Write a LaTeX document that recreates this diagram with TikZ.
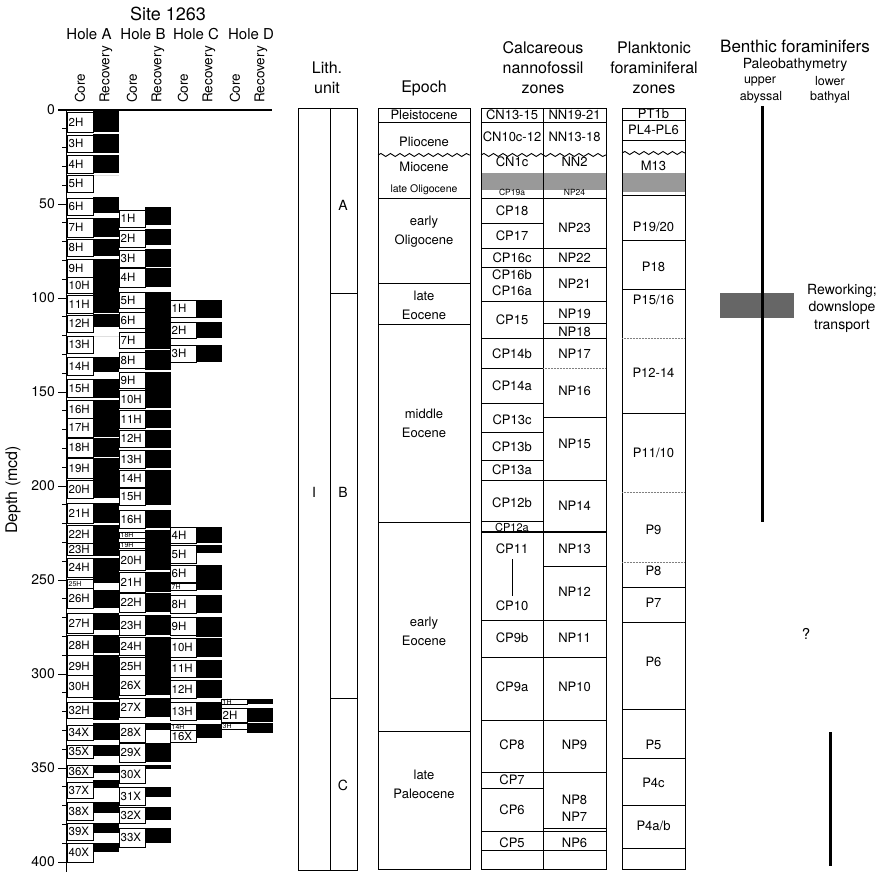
\documentclass[tikz,border=0pt]{standalone}
\usepackage{fontspec}
\setmainfont{TeX Gyre Heros}
\usetikzlibrary{decorations.pathmorphing}

% left edge of the core column of each hole
\def\holeA{67}
\def\holeB{119}
\def\holeC{170}
\def\holeD{221}
% hole, label, top, bottom, recovery top, recovery bottom
\newcommand{\core}[7][corelab]{%
	\edef\hx{\csname hole#2\endcsname}%
	\fill (\hx+26,#6) rectangle (\hx+52,#7);
	\draw[corebox] (\hx,#4) rectangle (\hx+26,#5);
	\node[#1] (#2#3) at (\hx+1.5,{(#4+#5)/2}) {#3};
}

\begin{document}
\begin{tikzpicture}[x=1pt,y=-1pt,
	corebox/.style = {draw,fill=white,line width=0.6pt},
	corelab/.style = {anchor=west,inner sep=0pt,font=\fontsize{11.5}{11.5}\selectfont},
	minilab/.style = {anchor=west,inner sep=0pt,font=\fontsize{7}{7}\selectfont},
	hdr/.style = {align=center,inner sep=0pt,font=\fontsize{16}{20}\selectfont},
	collab/.style = {rotate=90,anchor=west,inner sep=0pt,font=\fontsize{13.5}{13.5}\selectfont},
	zone/.style = {inner sep=0pt,font=\fontsize{13}{13}\selectfont},
	small/.style = {inner sep=0pt,font=\fontsize{8.5}{8.5}\selectfont},
	col/.style = {line width=0.9pt},
	dots/.style = {gray,densely dotted,line width=0.5pt},
	wave/.style = {decorate,decoration={snake,amplitude=1.5pt,segment length=9.5pt}}
	]
	\useasboundingbox (0,0) rectangle (882,872);
	%HEADER
	\node[font=\fontsize{18}{18}\selectfont,inner sep=0pt] (site) at (168,14) {Site 1263};
	\node[font=\fontsize{15}{15}\selectfont,inner sep=0pt] (hA) at (89,34) {Hole A};
	\node[font=\fontsize{15}{15}\selectfont,inner sep=0pt] (hB) at (143,34) {Hole B};
	\node[font=\fontsize{15}{15}\selectfont,inner sep=0pt] (hC) at (196,34) {Hole C};
	\node[font=\fontsize{15}{15}\selectfont,inner sep=0pt] (hD) at (251,34) {Hole D};
	\foreach \x [count=\i] in {80,132,183,235} {
		\node[collab] (core\i) at (\x,103) {Core};
		\node[collab] (rec\i) at (\x+26,103) {Recovery};
	}
	%DEPTH AXIS
	\draw[line width=1.4pt] (58,110) -- (272,110);
	\draw[line width=0.9pt] (66,110) -- (66,872);
	\foreach \d in {10,20,...,400}
		\draw[line width=0.9pt] (62,{110+1.88*\d}) -- (66,{110+1.88*\d});
	\foreach \d in {0,50,...,400} {
		\draw[line width=0.9pt] (58,{110+1.88*\d}) -- (66,{110+1.88*\d});
		\node[anchor=east,inner sep=0pt,font=\fontsize{14}{14}\selectfont] (d\d) at (55,{110+1.88*\d}) {\d};
	}
	\node[rotate=90,inner sep=0pt,font=\fontsize{16}{16}\selectfont] (depth) at (13,490) {Depth (mcd)};
	%HOLE A
	\core{A}{2H}{112}{132}{109}{132}
	\core{A}{3H}{135}{152}{134}{153}
	\core{A}{4H}{155}{173}{155}{173}
	\core{A}{5H}{175}{192}{175}{175}
	\core{A}{6H}{198}{215}{197}{213}
	\core{A}{7H}{218}{237}{218}{237}
	\core{A}{8H}{239}{256}{239}{256}
	\core{A}{9H}{259}{277}{259}{293}
	\core{A}{10H}{277}{293}{277}{293}
	\core{A}{11H}{295}{313}{290}{313}
	\core{A}{12H}{315}{332}{314}{327}
	\core{A}{13H}{336}{353}{336}{336}
	\core{A}{14H}{357}{375}{357}{372}
	\core{A}{15H}{379}{397}{379}{398}
	\core{A}{16H}{400}{418}{400}{418}
	\core{A}{17H}{418}{437}{418}{437}
	\core{A}{18H}{438}{457}{438}{457}
	\core{A}{19H}{458}{478}{458}{478}
	\core{A}{20H}{480}{498}{478}{498}
	\core{A}{21H}{503}{523}{503}{523}
	\core{A}{22H}{525}{543}{525}{541}
	\core{A}{23H}{543}{555}{541}{556}
	\core{A}{24H}{558}{577}{558}{578}
	\core[minilab]{A}{25H}{579}{588}{578}{583}
	\core{A}{26H}{588}{608}{590}{608}
	\core{A}{27H}{613}{633}{613}{630}
	\core{A}{28H}{635}{655}{635}{653}
	\core{A}{29H}{655}{677}{655}{675}
	\core{A}{30H}{675}{697}{675}{700}
	\core{A}{32H}{702}{718}{702}{720}
	\core{A}{34X}{725}{740}{723}{740}
	\core{A}{35X}{745}{758}{745}{756}
	\core{A}{36X}{765}{777}{765}{773}
	\core{A}{37X}{782}{798}{780}{788}
	\core{A}{38X}{802}{820}{802}{813}
	\core{A}{39X}{823}{840}{823}{833}
	\core{A}{40X}{843}{862}{843}{852}
	%HOLE B
	\core{B}{1H}{210}{227}{207}{225}
	\core{B}{2H}{230}{247}{229}{245}
	\core{B}{3H}{250}{267}{249}{267}
	\core{B}{4H}{268}{287}{268}{287}
	\core{B}{5H}{292}{308}{292}{310}
	\core{B}{6H}{312}{328}{310}{330}
	\core{B}{7H}{332}{348}{330}{349}
	\core{B}{8H}{352}{368}{350}{370}
	\core{B}{9H}{372}{388}{372}{390}
	\core{B}{10H}{390}{408}{390}{408}
	\core{B}{11H}{410}{428}{410}{428}
	\core{B}{12H}{430}{447}{430}{448}
	\core{B}{13H}{450}{468}{450}{468}
	\core{B}{14H}{470}{487}{470}{488}
	\core{B}{15H}{488}{505}{485}{505}
	\core{B}{16H}{510}{528}{510}{528}
	\core[minilab]{B}{18H}{532}{538}{530}{540}
	\core[minilab]{B}{19H}{542}{548}{540}{550}
	\core{B}{20H}{550}{570}{550}{570}
	\core{B}{21H}{572}{592}{572}{592}
	\core{B}{22H}{593}{612}{593}{612}
	\core{B}{23H}{615}{635}{615}{635}
	\core{B}{24H}{637}{655}{637}{657}
	\core{B}{25H}{657}{675}{657}{675}
	\core{B}{26X}{675}{695}{675}{695}
	\core{B}{27X}{698}{717}{698}{717}
	\core{B}{28X}{723}{742}{723}{730}
	\core{B}{29X}{743}{762}{743}{762}
	\core{B}{30X}{765}{783}{765}{769}
	\core{B}{31X}{787}{805}{787}{797}
	\core{B}{32X}{807}{823}{807}{820}
	\core{B}{33X}{828}{847}{828}{843}
	%HOLE C
	\core{C}{1H}{300}{317}{300}{318}
	\core{C}{2H}{322}{338}{322}{338}
	\core{C}{3H}{345}{362}{345}{362}
	\core{C}{4H}{527}{543}{527}{543}
	\core{C}{5H}{545}{563}{545}{553}
	\core{C}{6H}{565}{582}{565}{590}
	\core[minilab]{C}{7H}{583}{590}{583}{590}
	\core{C}{8H}{595}{613}{595}{613}
	\core{C}{9H}{617}{635}{617}{637}
	\core{C}{10H}{638}{657}{638}{657}
	\core{C}{11H}{660}{677}{660}{678}
	\core{C}{12H}{680}{698}{680}{698}
	\core{C}{13H}{702}{720}{702}{720}
	\core[minilab]{C}{14H}{724}{730}{724}{738}
	\core{C}{16X}{730}{742}{730}{730}
	%HOLE D
	\core[minilab]{D}{1H}{699}{704}{699}{704}
	\core{D}{2H}{708}{722}{708}{722}
	\core[minilab]{D}{3H}{723}{729}{723}{733}
	%LITH. UNIT
	\node[hdr] (lith) at (327,78) {Lith.\\unit};
	\draw[col] (298,108) rectangle (357,870);
	\draw[col] (330,108) -- (330,870);
	\draw[col] (330,293) -- (357,293);
	\draw[col] (330,698) -- (357,698);
	\node[zone,font=\fontsize{14}{14}\selectfont] (unitI) at (314,492) {I};
	\node[zone,font=\fontsize{14}{14}\selectfont] (unitA) at (343,205) {A};
	\node[zone,font=\fontsize{14}{14}\selectfont] (unitB) at (343,492) {B};
	\node[zone,font=\fontsize{14}{14}\selectfont] (unitC) at (343,785) {C};
	%EPOCH
	\node[hdr] (epoch) at (424,88) {Epoch};
	\draw[col] (378,108) rectangle (470,869);
	\foreach \y in {122,198,283,324,522,731}
		\draw[col] (378,\y) -- (470,\y);
	\draw[col,wave] (378,155) -- (470,155);
	\node[zone] (pleist) at (424,115) {Pleistocene};
	\node[zone] (plio) at (424,142) {Pliocene};
	\node[zone] (mio) at (424,167) {Miocene};
	\node[zone,font=\fontsize{10.5}{10.5}\selectfont] (lolig) at (424,190) {late Oligocene};
	\node[zone,align=center,font=\fontsize{13}{19}\selectfont] (eolig) at (424,232) {early\\Oligocene};
	\node[zone,align=center,font=\fontsize{13}{19}\selectfont] (leoc) at (424,305) {late\\Eocene};
	\node[zone,align=center,font=\fontsize{13}{19}\selectfont] (meoc) at (424,423) {middle\\Eocene};
	\node[zone,align=center,font=\fontsize{13}{19}\selectfont] (eeoc) at (424,631) {early\\Eocene};
	\node[zone,align=center,font=\fontsize{13}{19}\selectfont] (lpal) at (424,784) {late\\Paleocene};
	%CALCAREOUS NANNOFOSSILS
	\node[hdr] (nanno) at (543,68) {Calcareous\\nannofossil\\zones};
	\fill[black!40] (481,173) rectangle (606,190);
	\draw[col] (481,108) rectangle (606,869);
	\draw[col] (543,108) -- (543,869);
	\foreach \y in {122,198,223,248,267,301,338,368,403,432,460,480,521,620,657,720,772,788,831,850}
		\draw[col] (481,\y) -- (543,\y);
	\foreach \y in {122,198,248,267,301,323,338,417,480,566,620,657,720,772,828,831,850}
		\draw[col] (543,\y) -- (606,\y);
	\draw[dots] (543,368) -- (606,368);
	\draw[line width=1.4pt] (481,532) -- (606,532);
	\draw[col,wave] (481,155) -- (606,155);
	\foreach \y/\t [count=\i] in {115/CN13-15,137/CN10c-12,162/CN1c,211/CP18,236/CP17,258/CP16c,275/CP16b,291/CP16a,320/CP15,354/CP14b,386/CP14a,420/CP13c,447/CP13b,470/CP13a,503/CP12b,638/CP9b,687/CP9a,745/CP8,780/CP7,810/CP6,843/CP5}
		\node[zone] (cp\i) at (512,\y) {\t};
	\node[zone] (cpxi) at (512,549) {CP11};
	\node[zone] (cpx) at (512,606) {CP10};
	\draw[line width=1pt] ([yshift=-5pt]cpxi.south) -- ([yshift=5pt]cpx.north);
	\foreach \y/\t [count=\i] in {115/NN19-21,137/NN13-18,162/NN2,228/NP23,258/NP22,284/NP21,314/NP19,332/NP18,354/NP17,391/NP16,444/NP15,506/NP14,549/NP13,592/NP12,638/NP11,687/NP10,745/NP9,800/NP8,817/NP7,843/NP6}
		\node[zone] (np\i) at (574.5,\y) {\t};
	\node[small] (cp19a) at (512,192) {CP19a};
	\node[small] (np24) at (574.5,192) {NP24};
	\node[zone,font=\fontsize{11}{11}\selectfont] (cp12a) at (512,527) {CP12a};
	%PLANKTONIC FORAMINIFERS
	\node[hdr] (plank) at (654,68) {Planktonic\\foraminiferal\\zones};
	\fill[black!40] (622,173) rectangle (685,192);
	\draw[col] (622,108) rectangle (685,869);
	\foreach \y in {120,140,195,240,289,413,587,622,709,758,805,848}
		\draw[col] (622,\y) -- (685,\y);
	\foreach \y in {338,492,562}
		\draw[dots] (622,\y) -- (685,\y);
	\draw[col,wave] (622,153) -- (685,153);
	\foreach \y/\t [count=\i] in {114/PT1b,130/PL4-PL6,166/M13,227/{P19/20},267/P18,300/{P15/16},373/P12-14,453/{P11/10},530/P9,571/P8,603/P7,662/P6,745/P5,783/P4c,826/{P4a/b}}
		\node[zone] (p\i) at (653.5,\y) {\t};
	%BENTHIC FORAMINIFERS
	\node[inner sep=0pt,font=\fontsize{17}{17}\selectfont] (benth) at (795,46) {Benthic foraminifers};
	\node[inner sep=0pt,font=\fontsize{14}{14}\selectfont] (paleo) at (795,65) {Paleobathymetry};
	\node[inner sep=0pt,font=\fontsize{12.5}{12.5}\selectfont] (upper) at (760,81) {upper};
	\node[inner sep=0pt,font=\fontsize{12.5}{12.5}\selectfont] (abyssal) at (761,97) {abyssal};
	\node[inner sep=0pt,font=\fontsize{12.5}{12.5}\selectfont] (lower) at (830,81) {lower};
	\node[inner sep=0pt,font=\fontsize{12.5}{12.5}\selectfont] (bathyal) at (830,97) {bathyal};
	\fill[black!60] (720,293) rectangle (794,318);
	\draw[line width=3pt] (762,106) -- (762,522);
	\draw[line width=3pt] (830,732) -- (830,866);
	\node[align=center,inner sep=0pt,font=\fontsize{14}{17.5}\selectfont] (rework) at (842,308) {Reworking;\\downslope\\transport};
	\node[inner sep=0pt,font=\fontsize{15}{15}\selectfont] (quest) at (806,634) {?};
\end{tikzpicture}
\end{document}
